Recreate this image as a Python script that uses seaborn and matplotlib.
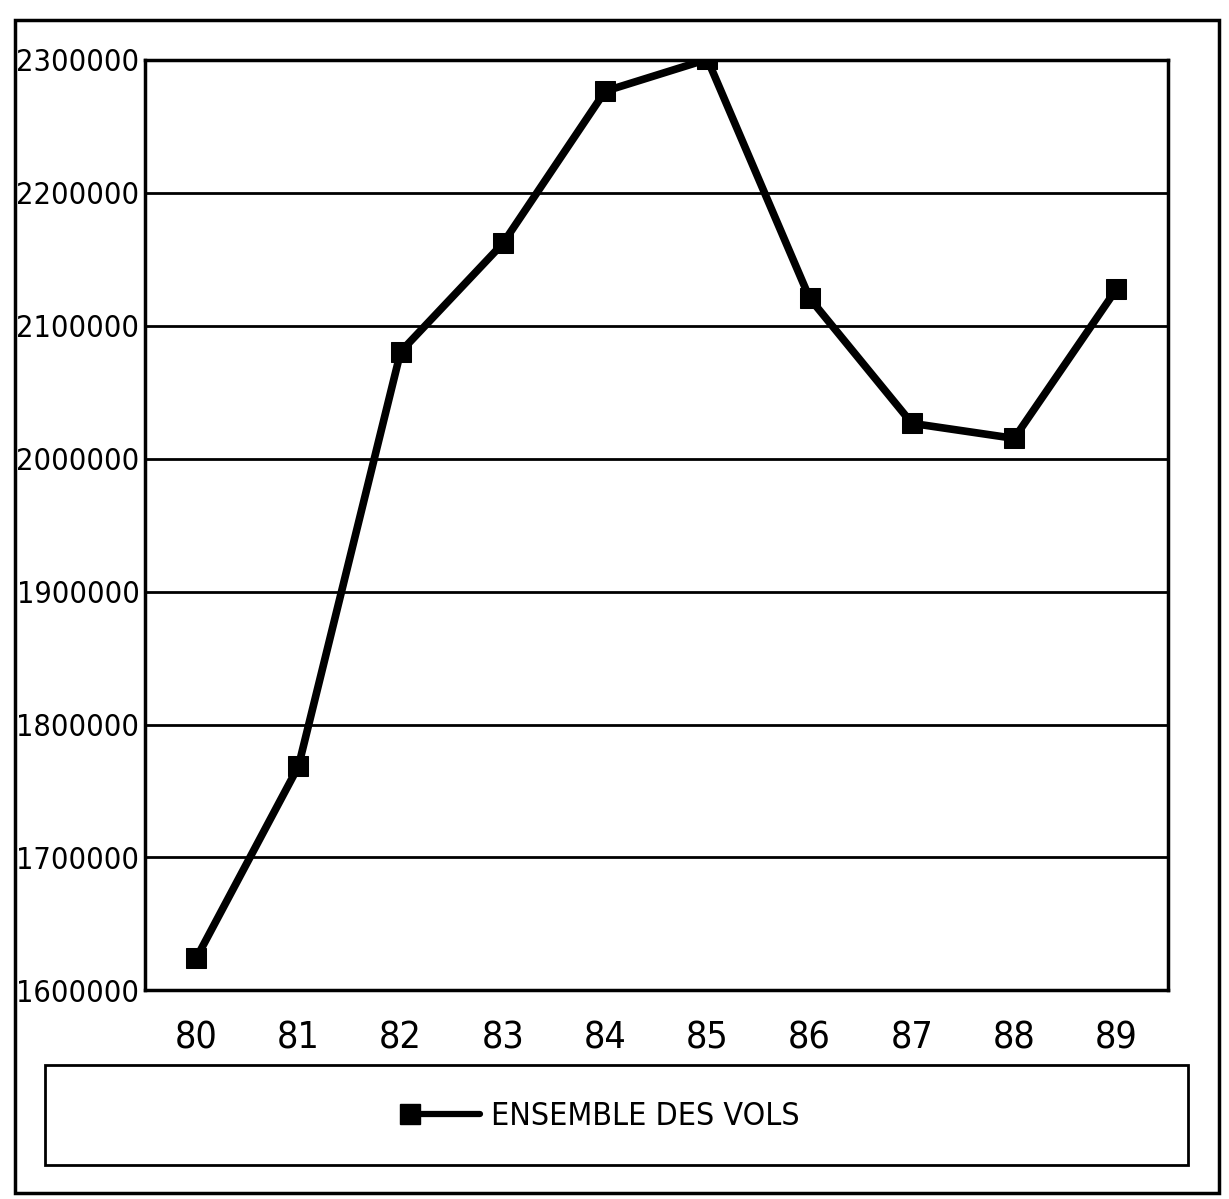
import matplotlib
matplotlib.use("Agg")
import matplotlib.pyplot as plt
import pandas as pd
import seaborn as sns
from matplotlib import font_manager as fm
from matplotlib.legend_handler import HandlerLine2D
from matplotlib.lines import Line2D
from matplotlib.patches import Rectangle
from matplotlib.ticker import FixedLocator

years = ["80", "81", "82", "83", "84", "85", "86", "87", "88", "89"]
vols = [1624000, 1768500, 2080500, 2162000, 2276500, 2300500, 2120700, 2026600, 2015300, 2127500]
y_ticks = [1600000, 1700000, 1800000, 1900000, 2000000, 2100000, 2200000, 2300000]
series_label = "ENSEMBLE DES VOLS"


class MarkerLeftHandler(HandlerLine2D):
    # marker sits at the left end of the legend line
    def create_artists(self, *args, **kwargs):
        arts = super().create_artists(*args, **kwargs)
        for a in arts:
            a.set_markevery([0])
        return arts


sns.set_style("white")

# prefer a narrow face if one is installed
narrow = [f for f in fm.fontManager.ttflist
          if ("Narrow" in f.name or f.stretch in ("condensed", "semi-condensed"))
          and f.style == "normal" and f.weight in (400, "normal", "regular")]
if narrow:
    fp = fm.FontProperties(fname=narrow[0].fname)
    ysize, xsize, lsize = 22, 27, 23
else:
    fp = fm.FontProperties(family=["Liberation Sans", "DejaVu Sans"])
    ysize, xsize, lsize = 20, 23, 20
plt.rcParams["text.color"] = "black"
plt.rcParams["xtick.color"] = "black"
plt.rcParams["ytick.color"] = "black"

df = pd.DataFrame({"annee": years, "vols": vols})

fig = plt.figure(figsize=(12.29, 11.99), dpi=100)
ax = fig.add_axes([0.118, 0.174, 0.832, 0.776])

sns.lineplot(data=df, x="annee", y="vols", ax=ax, color="black", lw=5.5,
             marker="s", markersize=15, markeredgecolor="black", sort=False)

ax.set_xlim(-0.5, len(years) - 0.5)
ax.set_ylim(y_ticks[0], y_ticks[-1])
ax.set_yticks(y_ticks)
ax.set_yticklabels([str(v) for v in y_ticks], fontproperties=fp, fontsize=ysize)
ax.set_xticks(range(len(years)))
ax.set_xticklabels(years, fontproperties=fp, fontsize=xsize)
ax.xaxis.set_minor_locator(FixedLocator([i + 0.5 for i in range(len(years) - 1)]))
ax.tick_params(axis="x", which="major", length=0, pad=22)
ax.tick_params(axis="x", which="minor", direction="in", length=16, width=2, color="black")
ax.tick_params(axis="y", length=0, pad=4)
ax.yaxis.grid(True, color="black", lw=2)
ax.set_axisbelow(True)
ax.set_xlabel("")
ax.set_ylabel("")
for sp in ax.spines.values():
    sp.set_visible(True)
    sp.set_color("black")
    sp.set_linewidth(2.5)

# legend box below the plot
fig.patches.append(Rectangle((0.0366, 0.028), 0.93, 0.084, transform=fig.transFigure,
                             fill=False, edgecolor="black", lw=2))
handle = Line2D([], [], color="black", lw=4.5, marker="s", markersize=15)
lp = fp.copy()
lp.set_size(lsize)
fig.legend([handle], [series_label], loc="center", bbox_to_anchor=(0.492, 0.069),
           frameon=False, handlelength=2.2, handletextpad=0.35, prop=lp,
           handler_map={handle: MarkerLeftHandler()})

# outer frame
fig.patches.append(Rectangle((0.012, 0.005), 0.98, 0.978, transform=fig.transFigure,
                             fill=False, edgecolor="black", lw=2.5))

fig.savefig("out.png", dpi=100)
